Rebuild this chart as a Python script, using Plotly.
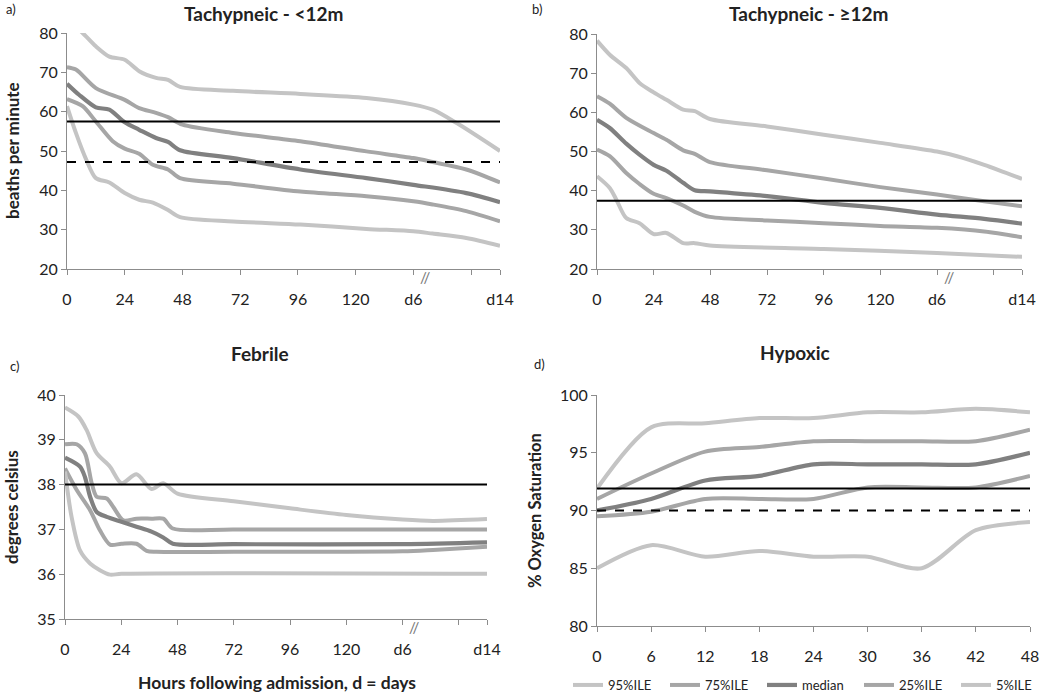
import plotly.graph_objects as go

# ---------------- data ----------------
series_names = ["95%ILE", "75%ILE", "median", "25%ILE", "5%ILE"]

# Panel a: Tachypneic <12m (hours; d6 = 144, d14 = 180 on the broken axis)
a95_x = [0, 6.5, 12, 17.6, 24, 30, 37, 42, 47, 69, 97, 124.5, 144, 152, 162, 180]
a95_y = [83.5, 80, 76.6, 74, 73.2, 70.3, 68.6, 68.1, 66.3, 65.3, 64.5, 63.5, 61.8, 60.5, 57.1, 50]
a75_x = [0, 3.7, 12, 24, 30, 37, 42, 48, 69, 97, 124.5, 144, 152, 166, 180]
a75_y = [71.3, 70.7, 66, 63, 60.9, 59.7, 58.6, 56.7, 54.6, 52.5, 49.9, 48.2, 47.2, 45.3, 42]
a50_x = [0, 5, 12, 17.6, 24, 30, 37, 42, 47, 69, 97, 124.5, 144, 166, 180]
a50_y = [67.1, 64.3, 61.1, 60.5, 57.3, 55.4, 53.3, 52.3, 50.2, 48.2, 45.3, 43.1, 41.4, 39.3, 37]
a25_x = [0, 6.5, 12, 19, 24, 30, 35.7, 42, 47, 69, 97, 124.5, 144, 152, 166, 180]
a25_y = [63.2, 61.4, 57.5, 52.5, 50.6, 49.3, 46.5, 45.3, 43.1, 41.7, 39.7, 38.5, 37.2, 36.4, 34.7, 32.1]
a5_x = [0, 3.7, 8, 12, 17.6, 24, 30, 35.7, 42, 47, 69, 97, 124.5, 144, 152, 166, 180]
a5_y = [61.4, 54.6, 47.8, 43.1, 42, 39.3, 37.6, 36.9, 35, 33.2, 32.1, 31.3, 30.2, 29.6, 29, 27.9, 25.9]

# Panel b: Tachypneic >=12m
b95_x = [0, 5.4, 12.4, 18, 24, 29.4, 36.5, 41.4, 47.8, 72, 96, 120, 144, 152.5, 164, 180]
b95_y = [78.3, 74.7, 71.3, 67.5, 65.1, 63.2, 60.7, 60.3, 58.3, 56.4, 54.3, 52.2, 50, 48.8, 46.6, 43]
b75_x = [0, 5.4, 12.4, 24, 29.4, 36.5, 41.4, 47.8, 72, 96, 120, 144, 164, 180]
b75_y = [64.1, 62.2, 58.6, 54.7, 53, 50.3, 49.4, 47.3, 45.2, 43.1, 40.9, 39, 37.3, 36]
b50_x = [0, 5.4, 12.4, 18, 24, 29.4, 36.5, 41.4, 47.8, 72, 96, 120, 144, 164, 180]
b50_y = [58.1, 56, 52, 49.2, 46.6, 45.1, 42, 40.1, 39.8, 38.6, 36.9, 35.6, 33.9, 32.8, 31.6]
b25_x = [0, 5.4, 12.4, 18, 24, 29.4, 36.5, 41.4, 47.8, 72, 96, 120, 144, 164, 180]
b25_y = [50.5, 48.8, 44.5, 41.7, 39.2, 38.1, 36.2, 34.6, 33.3, 32.4, 31.7, 31, 30.5, 29.6, 28.1]
b5_x = [0, 5.4, 8.2, 12.4, 18, 24, 29.4, 36.5, 41.4, 47.8, 96, 144, 180]
b5_y = [43.7, 40.7, 37.7, 33, 31.7, 28.9, 29.2, 26.6, 26.6, 26, 25.1, 24.1, 23.1]

# Panel c: Febrile
c95_x = [0, 5.7, 9.2, 13.5, 19.2, 24.1, 30.5, 36.9, 41.9, 48, 72, 96, 120, 144, 157, 180]
c95_y = [39.72, 39.52, 39.22, 38.7, 38.4, 38.03, 38.23, 37.9, 38.03, 37.8, 37.63, 37.47, 37.32, 37.22, 37.19, 37.23]
c75_x = [0, 5, 8.5, 11.4, 13.5, 17.8, 20.6, 24.9, 30.5, 36.9, 41.9, 46, 72, 180]
c75_y = [38.9, 38.9, 38.7, 38.03, 37.73, 37.69, 37.5, 37.2, 37.24, 37.24, 37.24, 37.02, 37.0, 37.0]
c50_x = [0, 6.4, 8.5, 10.7, 13.5, 17.8, 24.1, 30.5, 36.9, 41.9, 46, 72, 144, 180]
c50_y = [38.6, 38.4, 38.17, 37.73, 37.39, 37.28, 37.17, 37.06, 36.95, 36.82, 36.68, 36.67, 36.67, 36.71]
c25_x = [0, 5, 10.7, 14.9, 19.2, 24.1, 30.5, 34.8, 39, 72, 144, 157, 180]
c25_y = [38.36, 37.88, 37.43, 36.98, 36.66, 36.68, 36.68, 36.52, 36.5, 36.5, 36.51, 36.54, 36.61]
c5_x = [0, 2.8, 6.4, 10.7, 14.9, 19.2, 24.1, 180]
c5_y = [38.29, 37.28, 36.53, 36.24, 36.09, 35.99, 36.01, 36.01]

# Panel d: Hypoxic (hours 0-48)
d_x = [0, 6, 12, 18, 24, 30, 36, 42, 48]
d95_y = [91.9, 97.2, 97.55, 98.0, 98.0, 98.5, 98.5, 98.8, 98.5]
d75_y = [91.0, 93.2, 95.1, 95.5, 96.0, 96.0, 96.0, 96.0, 97.0]
d50_y = [90.0, 91.0, 92.6, 93.0, 94.0, 94.0, 94.0, 94.0, 95.0]
d25_y = [89.5, 89.9, 91.0, 91.0, 91.0, 92.0, 92.0, 92.0, 93.0]
d5_y = [85.0, 87.0, 86.0, 86.5, 86.0, 86.0, 85.0, 88.3, 89.0]

# Threshold lines (value, dash)
a_thresholds = [(57.5, "solid"), (47.2, "dash")]
b_thresholds = [(37.4, "solid")]
c_thresholds = [(38.0, "solid")]
d_thresholds = [(91.9, "solid"), (90.0, "dash")]

long_tickvals = [0, 24, 48, 72, 96, 120, 144, 168, 180]
long_ticktext = ["0", "24", "48", "72", "96", "120", "d6", "", "d14"]
short_tickvals = [0, 6, 12, 18, 24, 30, 36, 42, 48]

# ---------------- styling ----------------
FONT = "Lato, 'Open Sans', sans-serif"
colors = ["#c4c4c4", "#a6a6a6", "#808080", "#a6a6a6", "#c4c4c4"]
AXC = "#8c8c8c"
TXT = "#222222"
TICK_SIZE = 16

fig = go.Figure()

panels = [
    ("x", "y", [(a95_x, a95_y), (a75_x, a75_y), (a50_x, a50_y), (a25_x, a25_y), (a5_x, a5_y)], a_thresholds, 180),
    ("x2", "y2", [(b95_x, b95_y), (b75_x, b75_y), (b50_x, b50_y), (b25_x, b25_y), (b5_x, b5_y)], b_thresholds, 180),
    ("x3", "y3", [(c95_x, c95_y), (c75_x, c75_y), (c50_x, c50_y), (c25_x, c25_y), (c5_x, c5_y)], c_thresholds, 180),
    ("x4", "y4", [(d_x, d95_y), (d_x, d75_y), (d_x, d50_y), (d_x, d25_y), (d_x, d5_y)], d_thresholds, 48),
]

for pi, (xa, ya, series, thresholds, xmax) in enumerate(panels):
    for si, (xs, ys) in enumerate(series):
        fig.add_trace(go.Scatter(
            x=xs, y=ys, xaxis=xa, yaxis=ya, mode="lines",
            name=series_names[si], legendgroup=series_names[si],
            showlegend=(pi == 3),
            line=dict(color=colors[si], width=4 if si != 2 else 4.2, shape="spline", smoothing=0.8),
            hoverinfo="skip",
        ))
    for val, dash in thresholds:
        fig.add_trace(go.Scatter(
            x=[0, xmax], y=[val, val], xaxis=xa, yaxis=ya, mode="lines",
            showlegend=False, line=dict(color="#000000", width=2, dash=dash),
            hoverinfo="skip",
        ))

def xaxis(domain, anchor, rng, tickvals, ticktext=None):
    d = dict(domain=domain, anchor=anchor, range=rng, showgrid=False, zeroline=False,
             showline=True, linecolor=AXC, linewidth=1, ticks="outside", ticklen=5,
             tickcolor=AXC, tickvals=tickvals, tickfont=dict(family=FONT, size=TICK_SIZE, color=TXT),
             ticklabelstandoff=11, fixedrange=True, automargin=False)
    if ticktext is not None:
        d["ticktext"] = ticktext
    return d

def yaxis(domain, anchor, rng, dtick):
    return dict(domain=domain, anchor=anchor, range=rng, showgrid=False, zeroline=False,
                showline=True, linecolor=AXC, linewidth=1, ticks="outside", ticklen=5,
                tickcolor=AXC, dtick=dtick, tick0=0, tickfont=dict(family=FONT, size=TICK_SIZE, color=TXT),
                fixedrange=True, automargin=False)

W, H = 1050, 692
def px_x(a, b):
    return [a / W, b / W]
def px_y(top, bottom):
    return [1 - bottom / H, 1 - top / H]

fig.update_layout(
    width=W, height=H,
    margin=dict(l=0, r=0, t=0, b=0, autoexpand=False),
    paper_bgcolor="white", plot_bgcolor="white",
    font=dict(family=FONT, color=TXT),
    xaxis=xaxis(px_x(67, 500), "y", [0, 180], long_tickvals, long_ticktext),
    yaxis=yaxis(px_y(33, 269), "x", [20, 80], 10),
    xaxis2=xaxis(px_x(597, 1022), "y2", [0, 180], long_tickvals, long_ticktext),
    yaxis2=yaxis(px_y(34, 269), "x2", [20, 80], 10),
    xaxis3=xaxis(px_x(65, 487), "y3", [0, 180], long_tickvals, long_ticktext),
    yaxis3=yaxis(px_y(395, 619), "x3", [35, 40], 1),
    xaxis4=xaxis(px_x(597, 1030), "y4", [0, 48], short_tickvals),
    yaxis4=yaxis(px_y(395, 626), "x4", [80, 100], 5),
    legend=dict(orientation="h", x=568 / W, xanchor="left", y=1 - 700 / H, yanchor="bottom",
                font=dict(family=FONT, size=13, color=TXT), entrywidth=52, entrywidthmode="pixels",
                bgcolor="rgba(0,0,0,0)", itemwidth=30, tracegroupgap=0),
    showlegend=True,
)

def ann(text, x, y, size, bold=False, angle=0):
    fig.add_annotation(text=("<b>%s</b>" % text) if bold else text,
                       x=x / W, y=1 - y / H, xref="paper", yref="paper",
                       xanchor="center", yanchor="middle",
                       showarrow=False, textangle=angle,
                       font=dict(family=FONT, size=size, color=TXT))

ann("Tachypneic - &lt;12m", 264, 13, 19, bold=True)
ann("Tachypneic - ≥12m", 809, 13, 19, bold=True)
ann("Febrile", 260, 353, 19, bold=True)
ann("Hypoxic", 795, 352, 19, bold=True)
ann("a)", 11, 9, 13)
ann("b)", 537, 9, 13)
ann("c)", 14, 366, 13)
ann("d)", 539, 364, 13)
ann("beaths per minute", 12, 151, 17, bold=True, angle=-90)
ann("degrees celsius", 12, 507, 17, bold=True, angle=-90)
ann("% Oxygen Saturation", 535, 511, 16.5, bold=True, angle=-90)
ann("Hours following admission, d = days", 277, 682, 17.5, bold=True)

# axis-break marks "//" on the three long time axes
for xa, ya in [("x", "y"), ("x2", "y2"), ("x3", "y3")]:
    fig.add_annotation(text="//", x=149, xref=xa, y=-0.035, yref=ya + " domain",
                       xanchor="center", yanchor="middle",
                       showarrow=False, font=dict(family=FONT, size=15, color="#777777"))

fig.write_html("out.html", config={"displayModeBar": False},
               post_script="document.body.style.margin='0';document.body.style.overflow='hidden';")
